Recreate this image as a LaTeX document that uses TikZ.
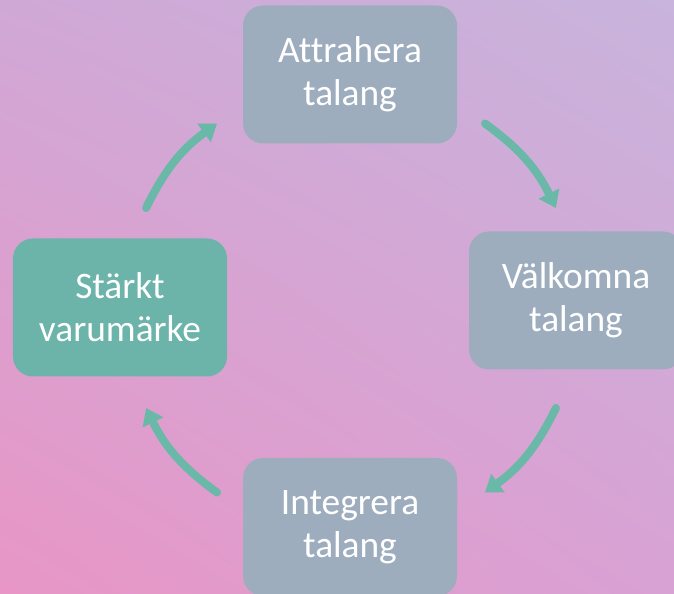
\documentclass[tikz,border=0pt]{standalone}
\usepackage{fontspec}
\setmainfont{Carlito}[Ligatures=NoCommon]
\usetikzlibrary{calc}
\usetikzlibrary{arrows.meta}
\usetikzlibrary{shadings}

\definecolor{bgul}{RGB}{208,168,214}
\definecolor{bgur}{RGB}{200,180,220}
\definecolor{bgll}{RGB}{232,150,198}
\definecolor{bglr}{RGB}{216,162,212}
\definecolor{boxgray}{RGB}{158,173,190}
\definecolor{boxteal}{RGB}{108,180,170}
\definecolor{flowteal}{RGB}{106,184,168}

\tikzset{
  stage/.style={rounded corners=20bp, minimum width=214bp, minimum height=138bp,
    inner sep=0pt, align=center, text=white, fill=boxgray,
    font=\fontsize{37.5}{43}\selectfont},
  flow/.style={draw=flowteal, line width=8bp, line cap=round,
    -{Triangle[width=22bp,length=16bp]}},
}

\begin{document}
\begin{tikzpicture}[x=1bp,y=1bp]
\shade[upper left=bgul, upper right=bgur, lower left=bgll, lower right=bglr]
  (0,0) rectangle (674,594);
\useasboundingbox (0,0) rectangle (674,594);

\node[stage] (attract) at (350,519.5) {Attrahera\\talang};
\node[stage] (welcome) at (576,293.5) {Välkomna\\talang};
\node[stage] (integrate) at (350,67) {Integrera\\talang};
\node[stage, fill=boxteal] (brand) at (120,286.5) {Stärkt\\varumärke};

% arrows round the cycle
\coordinate (hub) at (351,286);
\foreach \a/\n in {154/1, 54/2, -26/3, -126/4} {
  \coordinate (s\n) at ($(hub)+(\a:228)$);
  \coordinate (e\n) at ($(hub)+(\a-28:228)$);
  \draw[flow] (s\n) to[bend left=14] (e\n);
}
\end{tikzpicture}
\end{document}
